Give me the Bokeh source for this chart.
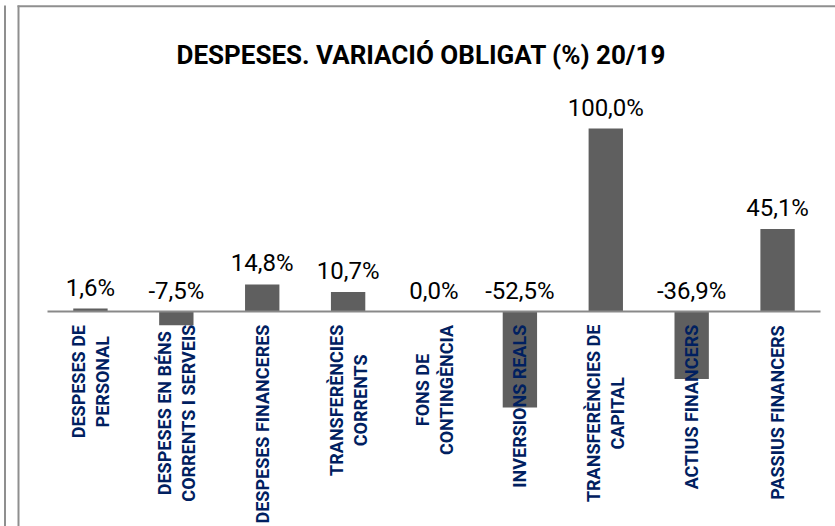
import math
from bokeh.plotting import figure
from bokeh.models import Range1d, FixedTicker, Label, ColumnDataSource
from bokeh.core.properties import value
from bokeh.embed import file_html
from bokeh.resources import INLINE

# ---- data ----
categories = [
    "DESPESES DE\nPERSONAL",
    "DESPESES EN BÉNS\nCORRENTS I SERVEIS",
    "DESPESES FINANCERES",
    "TRANSFERÈNCIES\nCORRENTS",
    "FONS DE\nCONTINGÈNCIA",
    "INVERSIONS REALS",
    "TRANSFERÈNCIES DE\nCAPITAL",
    "ACTIUS FINANCERS",
    "PASSIUS FINANCERS",
]
variation = [1.6, -7.5, 14.8, 10.7, 0.0, -52.5, 100.0, -36.9, 45.1]
labels = ["1,6%", "-7,5%", "14,8%", "10,7%", "0,0%", "-52,5%", "100,0%", "-36,9%", "45,1%"]
title_text = "DESPESES. VARIACIÓ OBLIGAT (%)  20/19"

# ---- layout (pixels -> data) ----
W, H = 835, 526
CAT_LEFT, CAT_W = 47.0, 85.89     # px where first category starts, px per category
AXIS_Y, PX_PER_PCT = 311.0, 1.83  # px of zero line from top, px per percent

X0 = (0 - CAT_LEFT) / CAT_W - 0.5
X1 = (W - CAT_LEFT) / CAT_W - 0.5
Y1 = AXIS_Y / PX_PER_PCT
Y0 = -(H - AXIS_Y) / PX_PER_PCT

def xd(px):
    return X0 + px / W * (X1 - X0)

def yd(py):
    return Y1 - py / H * (Y1 - Y0)

# approximate advance widths (em) of Roboto Bold, used to centre wrapped label lines
EM = {"A": .66, "B": .63, "C": .64, "D": .64, "E": .56, "F": .55, "G": .67, "I": .29,
      "L": .54, "N": .71, "O": .68, "P": .64, "R": .62, "S": .61, "T": .61, "U": .65,
      "V": .65, " ": .25}
def text_w(s, size):
    return sum(EM.get(c.upper() if c not in "ÉÈ" else "E", .6) for c in s) * size

CAT_FS = 18
STANDOFF = 14
PITCH = 24

idx = list(range(len(categories)))
src = ColumnDataSource(dict(
    x=idx,
    top=variation,
    lab=labels,
    ly=[max(v, 0) for v in variation],
))

# category label lines
cx, ct, cxo, cyo = [], [], [], []
for i, cat in enumerate(categories):
    lines = cat.split("\n")
    n = len(lines)
    lmax = max(text_w(l, CAT_FS) for l in lines)
    for j, line in enumerate(lines):
        cx.append(i)
        ct.append(line)
        cxo.append((j - (n - 1) / 2) * PITCH)
        cyo.append(STANDOFF + lmax / 2)
cat_src = ColumnDataSource(dict(x=cx, y=[0] * len(cx), t=ct, xo=cxo, yo=cyo))

p = figure(width=W, height=H, output_backend="svg", toolbar_location=None,
           x_range=Range1d(X0, X1), y_range=Range1d(Y0, Y1), y_axis_type=None,
           min_border_left=0, min_border_right=0, min_border_top=0, min_border_bottom=0,
           background_fill_color="white", border_fill_color="white")
p.outline_line_color = None
p.xgrid.visible = False
p.ygrid.visible = False

# chart borders
border = "#8f8f8f"
p.segment(x0=[xd(4.5), xd(18)], y0=[yd(5), yd(5)], x1=[xd(4.5), xd(18)], y1=[Y0, Y0],
          line_color=border, line_width=2)
p.segment(x0=[xd(17)], y0=[yd(5.8)], x1=[X1], y1=[yd(5.8)], line_color=border, line_width=2)

p.vbar(x="x", top="top", bottom=0, width=0.40, source=src,
       fill_color="#5f5f5f", line_color=None)

p.text(x="x", y="ly", text="lab", source=src, text_align="center",
       text_baseline="alphabetic", y_offset=-21,
       text_font=value("Roboto"), text_font_size="24px", text_color="#000000")

ax = p.xaxis[0]
ax.fixed_location = 0
ax.bounds = (-0.5, len(categories) - 0.5)
ax.ticker = FixedTicker(ticks=[])
ax.major_tick_out = 0
ax.major_tick_in = 0
ax.major_tick_line_color = None
ax.minor_tick_line_color = None
ax.axis_line_color = "#898989"
ax.axis_line_width = 2

p.text(x="x", y="y", text="t", source=cat_src, angle=math.pi / 2,
       x_offset="xo", y_offset="yo", text_align="center", text_baseline="middle",
       text_font=value("Roboto"), text_font_style="bold",
       text_font_size=f"{CAT_FS}px", text_color="#002060")

p.add_layout(Label(x=xd(424), y=yd(54.5), text=title_text, text_align="center",
                   text_baseline="middle", text_font="Roboto", text_font_style="bold",
                   text_font_size="26px", text_color="#000000"))

open("out.html", "w").write(file_html(p, INLINE))
